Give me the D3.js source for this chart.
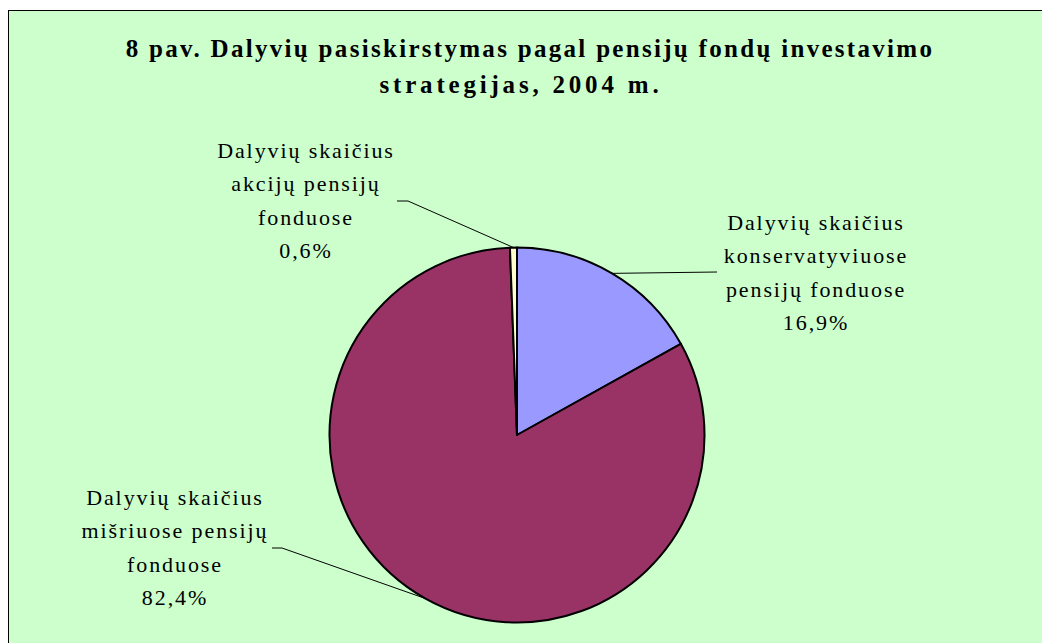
<!DOCTYPE html>
<html>
<head>
    <meta charset="utf-8">
    <title>Dalyvių pasiskirstymas</title>
    <script type="text/javascript" src="https://cdn.jsdelivr.net/npm/d3@7"></script>
    <style>
        body { margin: 0; background: #fff; }
    </style>
</head>
<body>
<script type="text/javascript">
    // data
    var categories = ["Dalyvių skaičius konservatyviuose pensijų fonduose",
                      "Dalyvių skaičius mišriuose pensijų fonduose",
                      "Dalyvių skaičius akcijų pensijų fonduose"];
    var labelLines = [["Dalyvių skaičius", "konservatyviuose", "pensijų fonduose"],
                      ["Dalyvių skaičius", "mišriuose pensijų", "fonduose"],
                      ["Dalyvių skaičius", "akcijų pensijų", "fonduose"]];
    var values = [16.9, 82.4, 0.6];
    var colors = ["#9999FF", "#993366", "#FFFFCC"];
    var titleLines = ["8 pav. Dalyvių pasiskirstymas pagal pensijų fondų investavimo",
                      "strategijas, 2004 m."];

    var width = 1042,
            height = 643,
            cx = 517, cy = 435, radius = 187.5,
            lineH = 33.4,
            serif = "Liberation Serif";

    // x, baseline, letter spacing of each title line
    var titlePos = [[530, 57, 2.3], [521, 93, 3.8]];

    // where each label block sits and where its leader line meets it
    var labelLayout = [
        {x: 816, y: 230, elbow: null, end: [717, 272]},
        {x: 175, y: 505, elbow: [282, 548], end: [272, 548]},
        {x: 306, y: 158, elbow: [408, 201], end: [397, 201]}
    ];

    var lt = d3.formatLocale({decimal: ",", thousands: " ", grouping: [3], currency: ["", ""]});
    var pct = lt.format(".1f");

    var svg = d3.select("body").append("svg")
            .attr("width", width)
            .attr("height", height);

    svg.append("rect")
            .attr("x", 8.5).attr("y", 10.5)
            .attr("width", width + 20).attr("height", height + 20)
            .attr("fill", "#CCFFCC")
            .attr("stroke", "#000")
            .attr("stroke-width", 1);

    svg.selectAll("text.title")
            .data(titleLines)
            .enter()
            .append("text")
            .attr("class", "title")
            .attr("x", function (d, i) { return titlePos[i][0]; })
            .attr("y", function (d, i) { return titlePos[i][1]; })
            .attr("text-anchor", "middle")
            .attr("font-family", serif)
            .attr("font-size", 25)
            .attr("font-weight", "bold")
            .attr("letter-spacing", function (d, i) { return titlePos[i][2]; })
            .text(function (d) { return d; });

    var pie = d3.pie().sort(null).value(function (d) { return d; });
    var arc = d3.arc().innerRadius(0).outerRadius(radius);
    var slices = pie(values);

    var g = svg.append("g")
            .attr("transform", "translate(" + cx + "," + cy + ")");

    g.selectAll("path.arc")
            .data(slices)
            .enter()
            .append("path")
            .attr("class", "arc")
            .attr("fill", function (d, i) { return colors[i]; })
            .attr("stroke", "#000")
            .attr("stroke-width", 2)
            .attr("stroke-linejoin", "round")
            .attr("d", arc);

    // leader lines from slice edge midpoint to label
    slices.forEach(function (d, i) {
        var a = (d.startAngle + d.endAngle) / 2;
        var px = cx + radius * Math.sin(a),
                py = cy - radius * Math.cos(a);
        var L = labelLayout[i];
        var pts = [[px, py]];
        if (L.elbow) pts.push(L.elbow);
        pts.push(L.end);
        svg.append("path")
                .attr("d", d3.line()(pts))
                .attr("fill", "none")
                .attr("stroke", "#000")
                .attr("stroke-width", 1);
    });

    labelLines.forEach(function (lines, i) {
        var L = labelLayout[i];
        var all = lines.concat([pct(values[i]) + "%"]);
        svg.selectAll(null)
                .data(all)
                .enter()
                .append("text")
                .attr("x", L.x)
                .attr("y", function (d, j) { return L.y + j * lineH; })
                .attr("text-anchor", "middle")
                .attr("font-family", serif)
                .attr("font-size", 22)
                .attr("letter-spacing", 1.9)
                .text(function (d) { return d; });
    });
</script>
</body>
</html>
